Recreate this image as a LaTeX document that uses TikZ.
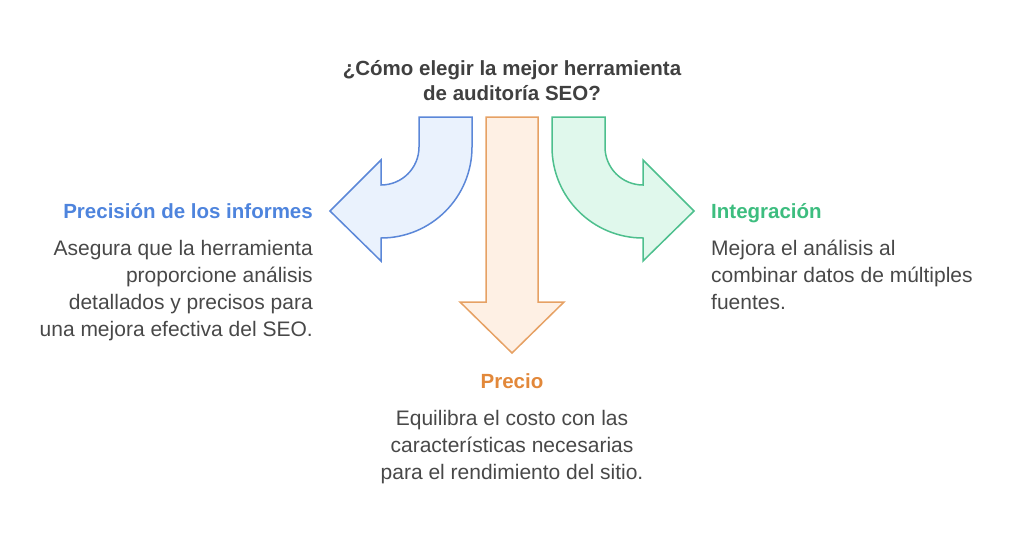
\documentclass[tikz,border=0pt]{standalone}
\usepackage{fontspec}
\setmainfont{Liberation Sans}
\definecolor{titlegray}{HTML}{404040}
\definecolor{bodygray}{HTML}{484848}
\definecolor{blueline}{HTML}{5B87D8}
\definecolor{bluefill}{HTML}{EAF2FD}
\definecolor{bluetext}{HTML}{4E84DD}
\definecolor{orangeline}{HTML}{E6A164}
\definecolor{orangefill}{HTML}{FEF0E4}
\definecolor{orangetext}{HTML}{E2883A}
\definecolor{greenline}{HTML}{4DBF8D}
\definecolor{greenfill}{HTML}{E0F8EC}
\definecolor{greentext}{HTML}{3DBD7F}

\begin{document}
\begin{tikzpicture}[x=1pt, y=-1pt,
    arrowshape/.style={line width=1.5pt, line join=miter},
    heading/.style={font=\fontsize{20.5}{25}\selectfont\bfseries, inner sep=0pt},
    body/.style={font=\fontsize{21}{27}\selectfont, text=bodygray, inner sep=0pt}]
    \useasboundingbox (0, 0) rectangle (1024, 539);

    % base anchor sits on the last line
    \node (title) at (512, 100) [anchor=base, align=center, heading, text=titlegray] {¿Cómo elegir la mejor herramienta\\de auditoría SEO?};

    \draw[arrowshape, draw=blueline, fill=bluefill] (419, 117) -- (472, 117) -- (472, 147) arc[start angle=0, end angle=-90, radius=91pt] -- (381, 261) -- (330, 211) -- (381, 160) -- (381, 185) arc[start angle=-90, end angle=0, radius=38pt] -- cycle;
    \draw[arrowshape, draw=orangeline, fill=orangefill] (486, 117) -- (538, 117) -- (538, 302) -- (564, 302) -- (512, 353) -- (460, 302) -- (486, 302) -- cycle;
    \draw[arrowshape, draw=greenline, fill=greenfill] (552, 117) -- (605, 117) -- (605, 147) arc[start angle=180, end angle=270, radius=38pt] -- (643, 160) -- (694, 211) -- (643, 261) -- (643, 238) arc[start angle=270, end angle=180, radius=91pt] -- cycle;

    \node (precision) at (313, 218) [anchor=base east, heading, text=bluetext] {Precisión de los informes};
    \node (precisionText) at (313, 336) [anchor=base east, align=right, body] {Asegura que la herramienta\\proporcione análisis\\detallados y precisos para\\una mejora efectiva del SEO.};

    \node (integracion) at (711, 218) [anchor=base west, heading, text=greentext] {Integración};
    \node (integracionText) at (711, 309) [anchor=base west, align=left, body] {Mejora el análisis al\\combinar datos de múltiples\\fuentes.};

    \node (precio) at (512, 388) [anchor=base, heading, text=orangetext] {Precio};
    \node (precioText) at (512, 479) [anchor=base, align=center, body] {Equilibra el costo con las\\características necesarias\\para el rendimiento del sitio.};
\end{tikzpicture}
\end{document}
